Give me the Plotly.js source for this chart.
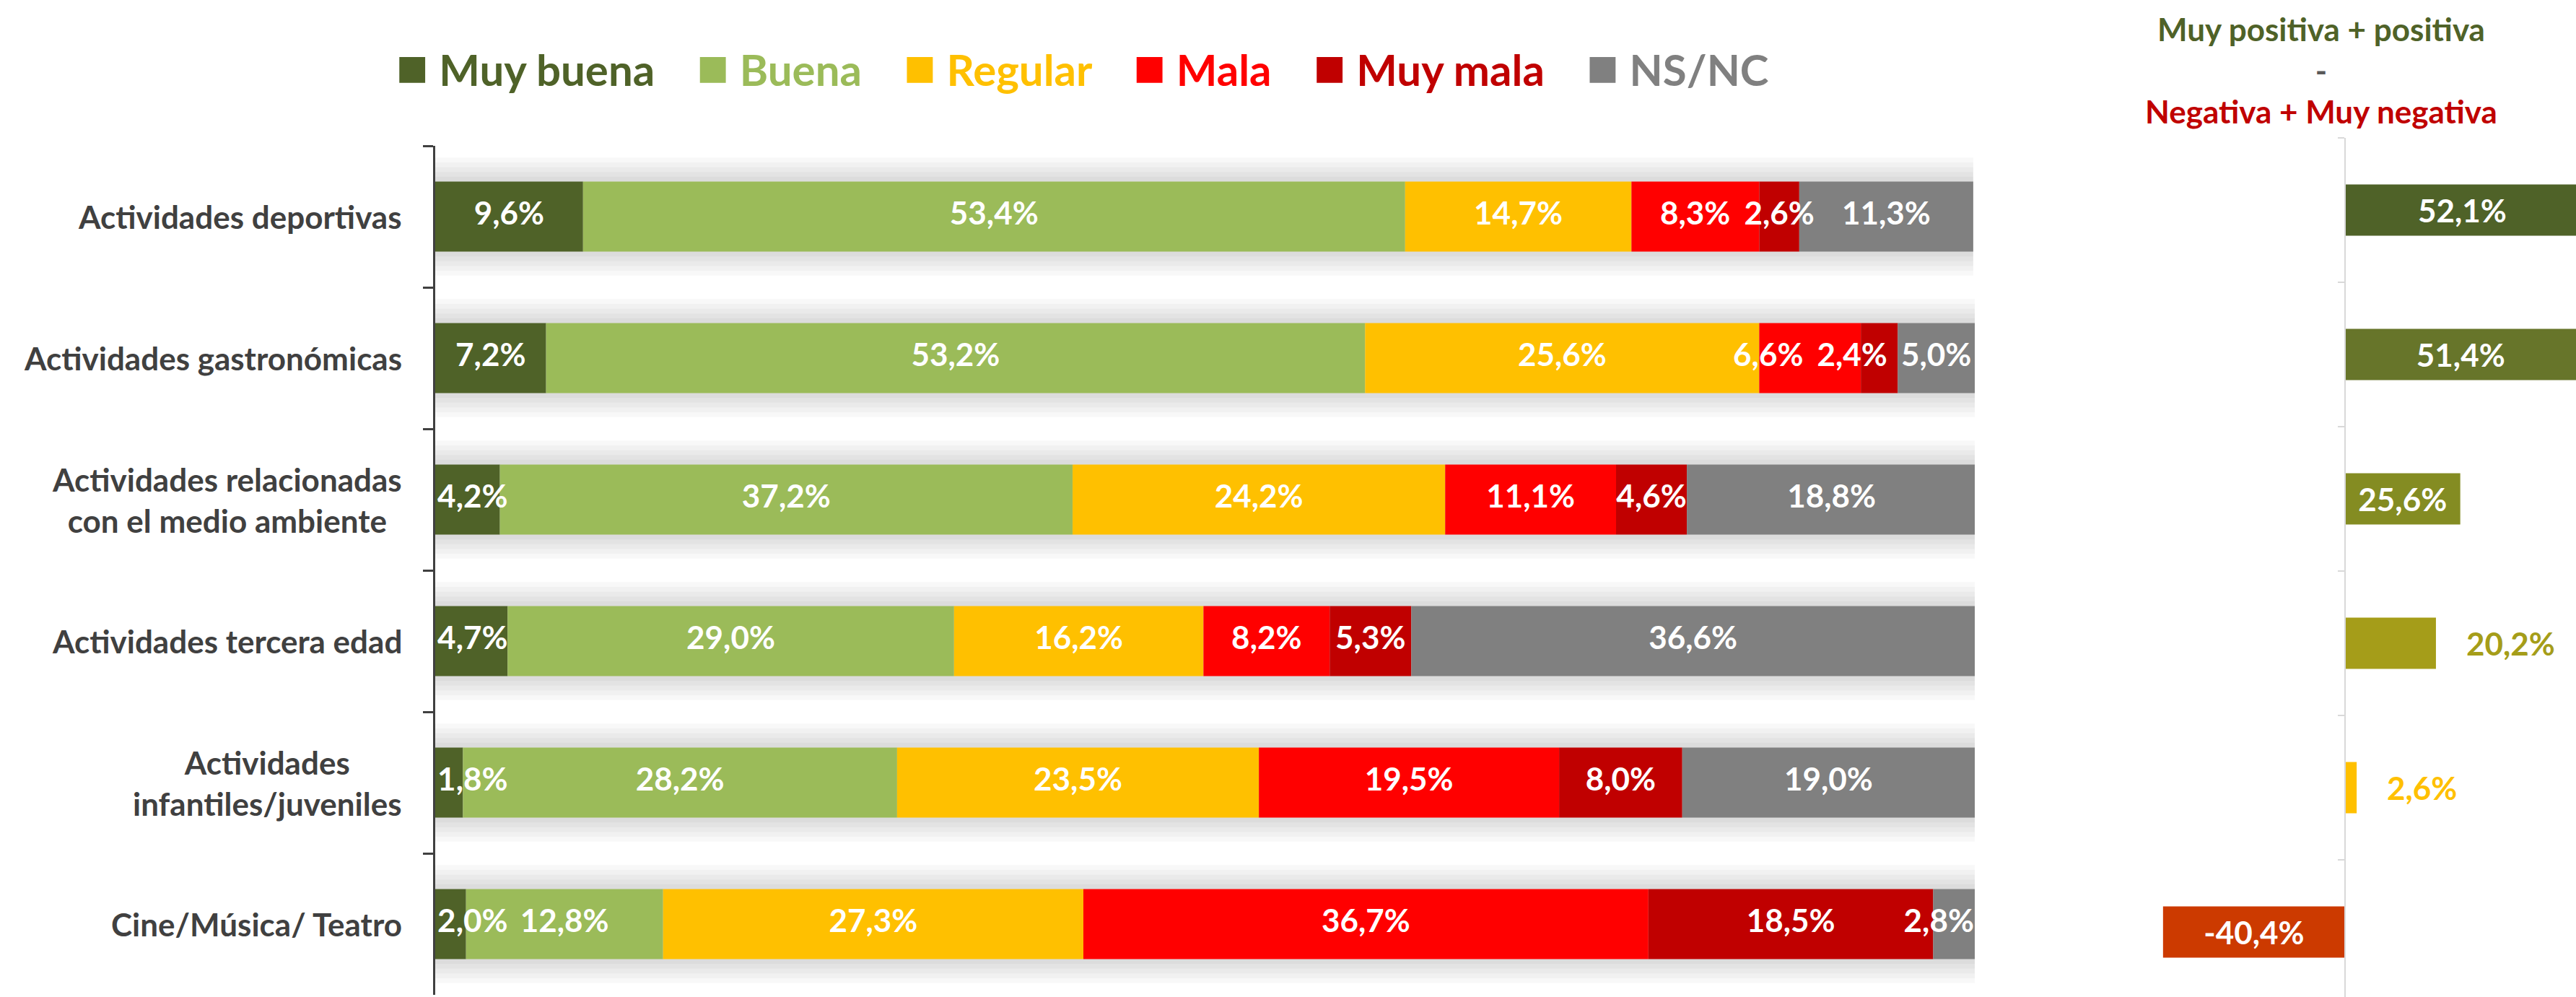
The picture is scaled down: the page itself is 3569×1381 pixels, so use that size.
<!DOCTYPE html>
<html><head><meta charset="utf-8">
<script src="https://cdn.plot.ly/plotly-3.0.1.min.js"></script>
<style>html,body{margin:0;padding:0;background:#fff;}</style>
</head><body>
<div id="chart" style="width:3569px;height:1381px;"></div>
<script>
// ---------- DATA ----------
const categories = ["Actividades deportivas","Actividades gastronómicas","Actividades relacionadas<br>con el medio ambiente","Actividades tercera edad","Actividades<br>infantiles/juveniles","Cine/Música/ Teatro"];
const seriesNames = ["Muy buena","Buena","Regular","Mala","Muy mala","NS/NC"];
const muyBuena = [9.6, 7.2, 4.2, 4.7, 1.8, 2.0];
const buena    = [53.4, 53.2, 37.2, 29.0, 28.2, 12.8];
const regular  = [14.7, 25.6, 24.2, 16.2, 23.5, 27.3];
const mala     = [8.3, 6.6, 11.1, 8.2, 19.5, 36.7];
const muyMala  = [2.6, 2.4, 4.6, 5.3, 8.0, 18.5];
const nsnc     = [11.3, 5.0, 18.8, 36.6, 19.0, 2.8];
const netBalance = [52.1, 51.4, 25.6, 20.2, 2.6, -40.4];
const balanceTitle = ["Muy positiva + positiva", "-", "Negativa + Muy negativa"];

// ---------- STYLE ----------
const seriesColors = ["#4F6228","#9BBB59","#FFC000","#FF0000","#C00000","#808080"];
const netColors = ["#4F6228","#67752A","#848C22","#A59D19","#FFC000","#CC3A00"];
const FONT = "Lato, 'Open Sans', sans-serif";
const W = 3569, H = 1381;
const LABEL_SIZE = 44;
const X0 = 603, X100 = 2736;              // pixel span of 0..100 on the left chart
const PX_PER_UNIT = (X100 - X0) / 100;

const fmt = v => v.toFixed(1).replace('.', ',') + '%';
const series = [muyBuena, buena, regular, mala, muyMala, nsnc];
const totals = categories.map((_, i) => series.reduce((s, a) => s + a[i], 0));

// approximate rendered width of a label, in data units of the left chart
const labelWidth = s => {
  let w = 0;
  for (const ch of s) w += (ch === ',' ? 0.23 : ch === '%' ? 0.82 : 0.58);
  return w * LABEL_SIZE / PX_PER_UNIT;
};

const traces = [];
// soft shadow behind each row
for (let k = 5; k >= 1; k--) {
  traces.push({
    type: 'bar', orientation: 'h', x: totals, y: categories, base: 0,
    width: 0.495 + 2 * k * 0.034, marker: {color: 'rgba(0,0,0,0.028)'},
    hoverinfo: 'skip', showlegend: false, xaxis: 'x', yaxis: 'y'
  });
}
// stacked segments
const cum = categories.map(() => 0);
const centers = series.map(() => []);
series.forEach((vals, k) => {
  const base = cum.slice();
  traces.push({
    type: 'bar', orientation: 'h', name: seriesNames[k],
    x: vals, y: categories, base: base, width: 0.495,
    marker: {color: seriesColors[k]}, textposition: 'none',
    cliponaxis: false, showlegend: false, xaxis: 'x', yaxis: 'y'
  });
  vals.forEach((v, i) => { centers[k][i] = base[i] + v / 2; cum[i] += v; });
});
// label placement: centred in each segment, kept inside the row ends, nudged left to avoid overlaps
const gap = 0.9;
const lblX = [], lblY = [], lblT = [];
categories.forEach((c, i) => {
  const txt = series.map(a => fmt(a[i]));
  const w = txt.map(labelWidth);
  const pos = series.map((_, k) => centers[k][i]);
  const last = series.length - 1;
  pos[0] = Math.max(pos[0], w[0] / 2 + 0.15);
  pos[last] = Math.min(pos[last], totals[i] - w[last] / 2 - 0.15);
  for (let k = last - 1; k >= 1; k--) {
    const limit = pos[k + 1] - w[k + 1] / 2 - gap - w[k] / 2;
    if (pos[k] > limit) pos[k] = limit;
  }
  series.forEach((_, k) => { lblX.push(pos[k]); lblY.push(c); lblT.push(txt[k]); });
});
traces.push({
  type: 'scatter', mode: 'text', x: lblX, y: lblY, text: lblT, textposition: 'middle center',
  textfont: {family: FONT, size: LABEL_SIZE, color: '#FFFFFF', weight: 'bold'},
  cliponaxis: false, showlegend: false, hoverinfo: 'skip', xaxis: 'x', yaxis: 'y'
});
// right panel: balance
traces.push({
  type: 'bar', orientation: 'h', x: netBalance, y: categories, width: 0.355,
  marker: {color: netColors},
  text: netBalance.map(fmt),
  textposition: netBalance.map(v => Math.abs(v) >= 25 ? 'inside' : 'none'),
  insidetextanchor: 'middle', textangle: 0, constraintext: 'none',
  textfont: {family: FONT, size: LABEL_SIZE, color: '#FFFFFF', weight: 'bold'},
  showlegend: false, xaxis: 'x2', yaxis: 'y2'
});

const x2dom = [2980 / W, 1];
const x2range = [-43.1, 51.3];
const zeroPos = x2dom[0] + (0 - x2range[0]) / (x2range[1] - x2range[0]) * (x2dom[1] - x2dom[0]);

const annotations = [];
categories.forEach((c, i) => annotations.push({
  xref: 'x', yref: 'y', x: 0, y: c, xanchor: 'right', xshift: -44,
  text: c, align: 'center', showarrow: false,
  font: {family: FONT, size: 44, color: '#404040', weight: 'bold'}
}));
netBalance.forEach((v, i) => {
  if (Math.abs(v) < 25) annotations.push({
    xref: 'x2', yref: 'y2', x: v, y: categories[i], xanchor: 'left', xshift: 40,
    text: fmt(v), showarrow: false,
    font: {family: FONT, size: LABEL_SIZE, color: netColors[i], weight: 'bold'}
  });
});
// legend
annotations.push({
  xref: 'paper', yref: 'paper', x: 1500 / W, y: 1 - 90 / H, xanchor: 'center', yanchor: 'middle',
  showarrow: false,
  text: seriesNames.map((n, i) => `<span style="color:${seriesColors[i]}"><span style="font-size:74px">■</span>\u00A0${n}</span>`).join('\u00A0'.repeat(4)),
  font: {family: FONT, size: 60, weight: 'bold', color: '#404040'}
});
// right panel title
annotations.push({
  xref: 'paper', yref: 'paper', x: 3216 / W, y: 1 - 97 / H, xanchor: 'center', yanchor: 'middle',
  showarrow: false, align: 'center',
  text: `<span style="color:#4F6228">${balanceTitle[0]}</span><br><span style="color:#595959">${balanceTitle[1]}</span><br><span style="color:#C00000">${balanceTitle[2]}</span>`,
  font: {family: FONT, size: 44, weight: 'bold'}
});

const layout = {
  width: W, height: H, margin: {l: 0, r: 0, t: 0, b: 0},
  paper_bgcolor: '#FFFFFF', plot_bgcolor: 'rgba(0,0,0,0)',
  barmode: 'overlay', showlegend: false,
  xaxis: {domain: [X0 / W, X100 / W], range: [0, 100], visible: false, anchor: 'y'},
  yaxis: {domain: [(H - 1378) / H, (H - 202) / H], type: 'category', range: [5.5, -0.5],
          showline: true, linecolor: '#404040', linewidth: 3, ticks: 'outside', ticklen: 14,
          tickwidth: 3, tickcolor: '#404040', tickson: 'boundaries', showticklabels: false,
          showgrid: false, zeroline: false, anchor: 'x'},
  xaxis2: {domain: x2dom, range: x2range, visible: false, anchor: 'y2'},
  yaxis2: {domain: [0, (H - 191) / H], type: 'category', range: [5.45, -0.5],
           showline: true, linecolor: '#D9D9D9', linewidth: 2, ticks: 'outside', ticklen: 9,
           tickwidth: 2, tickcolor: '#D9D9D9', tickson: 'boundaries', showticklabels: false,
           showgrid: false, zeroline: false, anchor: 'free', position: zeroPos},
  annotations: annotations
};

Plotly.newPlot('chart', traces, layout, {staticPlot: true, displayModeBar: false});
</script>
</body></html>
